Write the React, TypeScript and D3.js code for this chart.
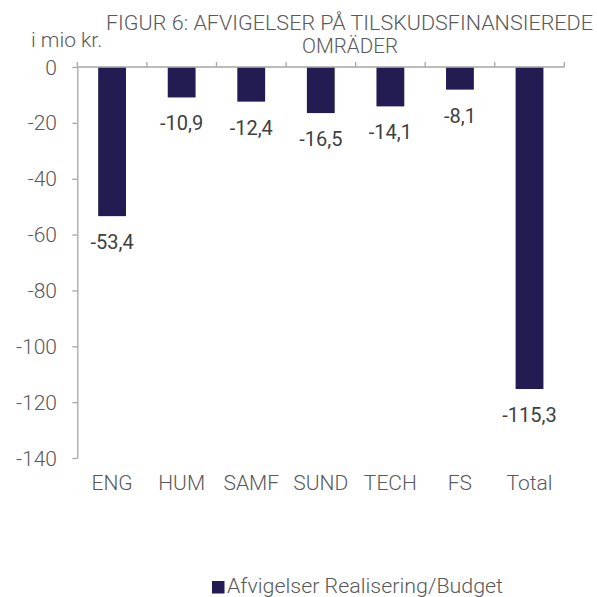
import React, { useEffect, useRef } from "react";
import * as d3 from "d3";

const categories = ["ENG", "HUM", "SAMF", "SUND", "TECH", "FS", "Total"];
const values = [-53.4, -10.9, -12.4, -16.5, -14.1, -8.1, -115.3];
const yTicks = [0, -20, -40, -60, -80, -100, -120, -140];
const titleLines = ["FIGUR 6: AFVIGELSER PÅ TILSKUDSFINANSIEREDE", "OMRÄDER"];
const unitLabel = "i mio kr.";
const seriesName = "Afvigelser Realisering/Budget";

const App = () => {
  const svgRef = useRef<SVGSVGElement | null>(null);
  const w = 597;
  const h = 597;
  const m = { top: 67, left: 77.3, right: 32.7, bottom: 139 };
  const font = "Roboto, 'DejaVu Sans', sans-serif";
  const grey = "#595959";
  const axisGrey = "#a6a6a6";
  const barColor = "#231c52";

  useEffect(() => {
    const svg = d3.select(svgRef.current);
    svg.selectAll("*").remove();

    const band = d3.scaleBand<string>().domain(categories).range([m.left, w - m.right]);
    const xScale = d3
      .scaleBand<string>()
      .domain(categories)
      .range([m.left, w - m.right])
      .paddingInner(0.6)
      .paddingOuter(0.3);
    const yScale = d3.scaleLinear().domain([0, -140]).range([m.top, h - m.bottom]);

    // y axis (lines from d3, labels below)
    const yAxis = svg
      .append("g")
      .attr("transform", `translate(${m.left},0)`)
      .call(d3.axisLeft(yScale).tickValues(yTicks).tickSize(5).tickSizeOuter(0).tickFormat(() => ""));
    yAxis.select(".domain").attr("stroke", axisGrey).attr("stroke-width", 1.3);
    yAxis.selectAll(".tick line").attr("stroke", axisGrey).attr("stroke-width", 1.3);

    svg
      .selectAll("text.ytk")
      .data(yTicks)
      .enter()
      .append("text")
      .attr("class", "ytk")
      .attr("x", 57)
      .attr("y", (d) => yScale(d))
      .attr("dy", "0.36em")
      .attr("text-anchor", "end")
      .attr("fill", grey)
      .style("font-family", font)
      .style("font-weight", 300)
      .style("font-size", "21px")
      .text((d) => String(d));

    // category axis along zero, ticks at band edges pointing up
    svg
      .append("line")
      .attr("x1", m.left)
      .attr("x2", w - m.right)
      .attr("y1", yScale(0))
      .attr("y2", yScale(0))
      .attr("stroke", axisGrey)
      .attr("stroke-width", 1.3);
    const edges = categories.map((c) => band(c) as number).concat([w - m.right]);
    svg
      .selectAll("line.xtk")
      .data(edges)
      .enter()
      .append("line")
      .attr("class", "xtk")
      .attr("x1", (d) => d)
      .attr("x2", (d) => d)
      .attr("y1", yScale(0))
      .attr("y2", yScale(0) - 5)
      .attr("stroke", axisGrey)
      .attr("stroke-width", 1.3);

    // bars
    svg
      .selectAll("rect.bar")
      .data(values)
      .enter()
      .append("rect")
      .attr("class", "bar")
      .attr("x", (_, i) => xScale(categories[i]) as number)
      .attr("width", xScale.bandwidth())
      .attr("y", yScale(0) + 0.7)
      .attr("height", (d) => yScale(d) - yScale(0) - 0.7)
      .attr("fill", barColor);

    // value labels under each bar
    svg
      .selectAll("text.val")
      .data(values)
      .enter()
      .append("text")
      .attr("class", "val")
      .attr("x", (_, i) => (band(categories[i]) as number) + band.bandwidth() / 2)
      .attr("y", (d) => yScale(d) + 33)
      .attr("text-anchor", "middle")
      .attr("fill", "#404040")
      .style("font-family", font)
      .style("font-size", "20px")
      .text((d) => d.toFixed(1).replace(".", ","));

    // category labels
    svg
      .selectAll("text.cat")
      .data(categories)
      .enter()
      .append("text")
      .attr("class", "cat")
      .attr("x", (d) => (band(d) as number) + band.bandwidth() / 2)
      .attr("y", 490)
      .attr("text-anchor", "middle")
      .attr("fill", grey)
      .style("font-family", font)
      .style("font-weight", 300)
      .style("font-size", "21px")
      .text((d) => d);

    // title
    svg
      .append("text")
      .attr("x", 106)
      .attr("y", 30)
      .attr("fill", grey)
      .attr("textLength", 487)
      .attr("lengthAdjust", "spacingAndGlyphs")
      .style("font-family", font)
      .style("font-weight", 300)
      .style("font-size", "21px")
      .text(titleLines[0]);
    svg
      .append("text")
      .attr("x", 350)
      .attr("y", 53)
      .attr("text-anchor", "middle")
      .attr("fill", grey)
      .attr("textLength", 96)
      .attr("lengthAdjust", "spacingAndGlyphs")
      .style("font-family", font)
      .style("font-weight", 300)
      .style("font-size", "20px")
      .text(titleLines[1]);

    svg
      .append("text")
      .attr("x", 31)
      .attr("y", 47)
      .attr("fill", grey)
      .style("font-family", font)
      .style("font-weight", 300)
      .style("font-size", "21px")
      .text(unitLabel);

    // legend
    svg
      .append("rect")
      .attr("x", 212)
      .attr("y", 581)
      .attr("width", 12.5)
      .attr("height", 12.5)
      .attr("fill", barColor);
    svg
      .append("text")
      .attr("x", 227)
      .attr("y", 593)
      .attr("fill", grey)
      .attr("textLength", 276)
      .attr("lengthAdjust", "spacingAndGlyphs")
      .style("font-family", font)
      .style("font-weight", 300)
      .style("font-size", "21px")
      .text(seriesName);
  }, []);

  return (
    <svg
      ref={svgRef}
      width={w}
      height={h}
      style={{ position: "absolute", left: 0, top: 0, background: "#fff" }}
    ></svg>
  );
};

export default App;
